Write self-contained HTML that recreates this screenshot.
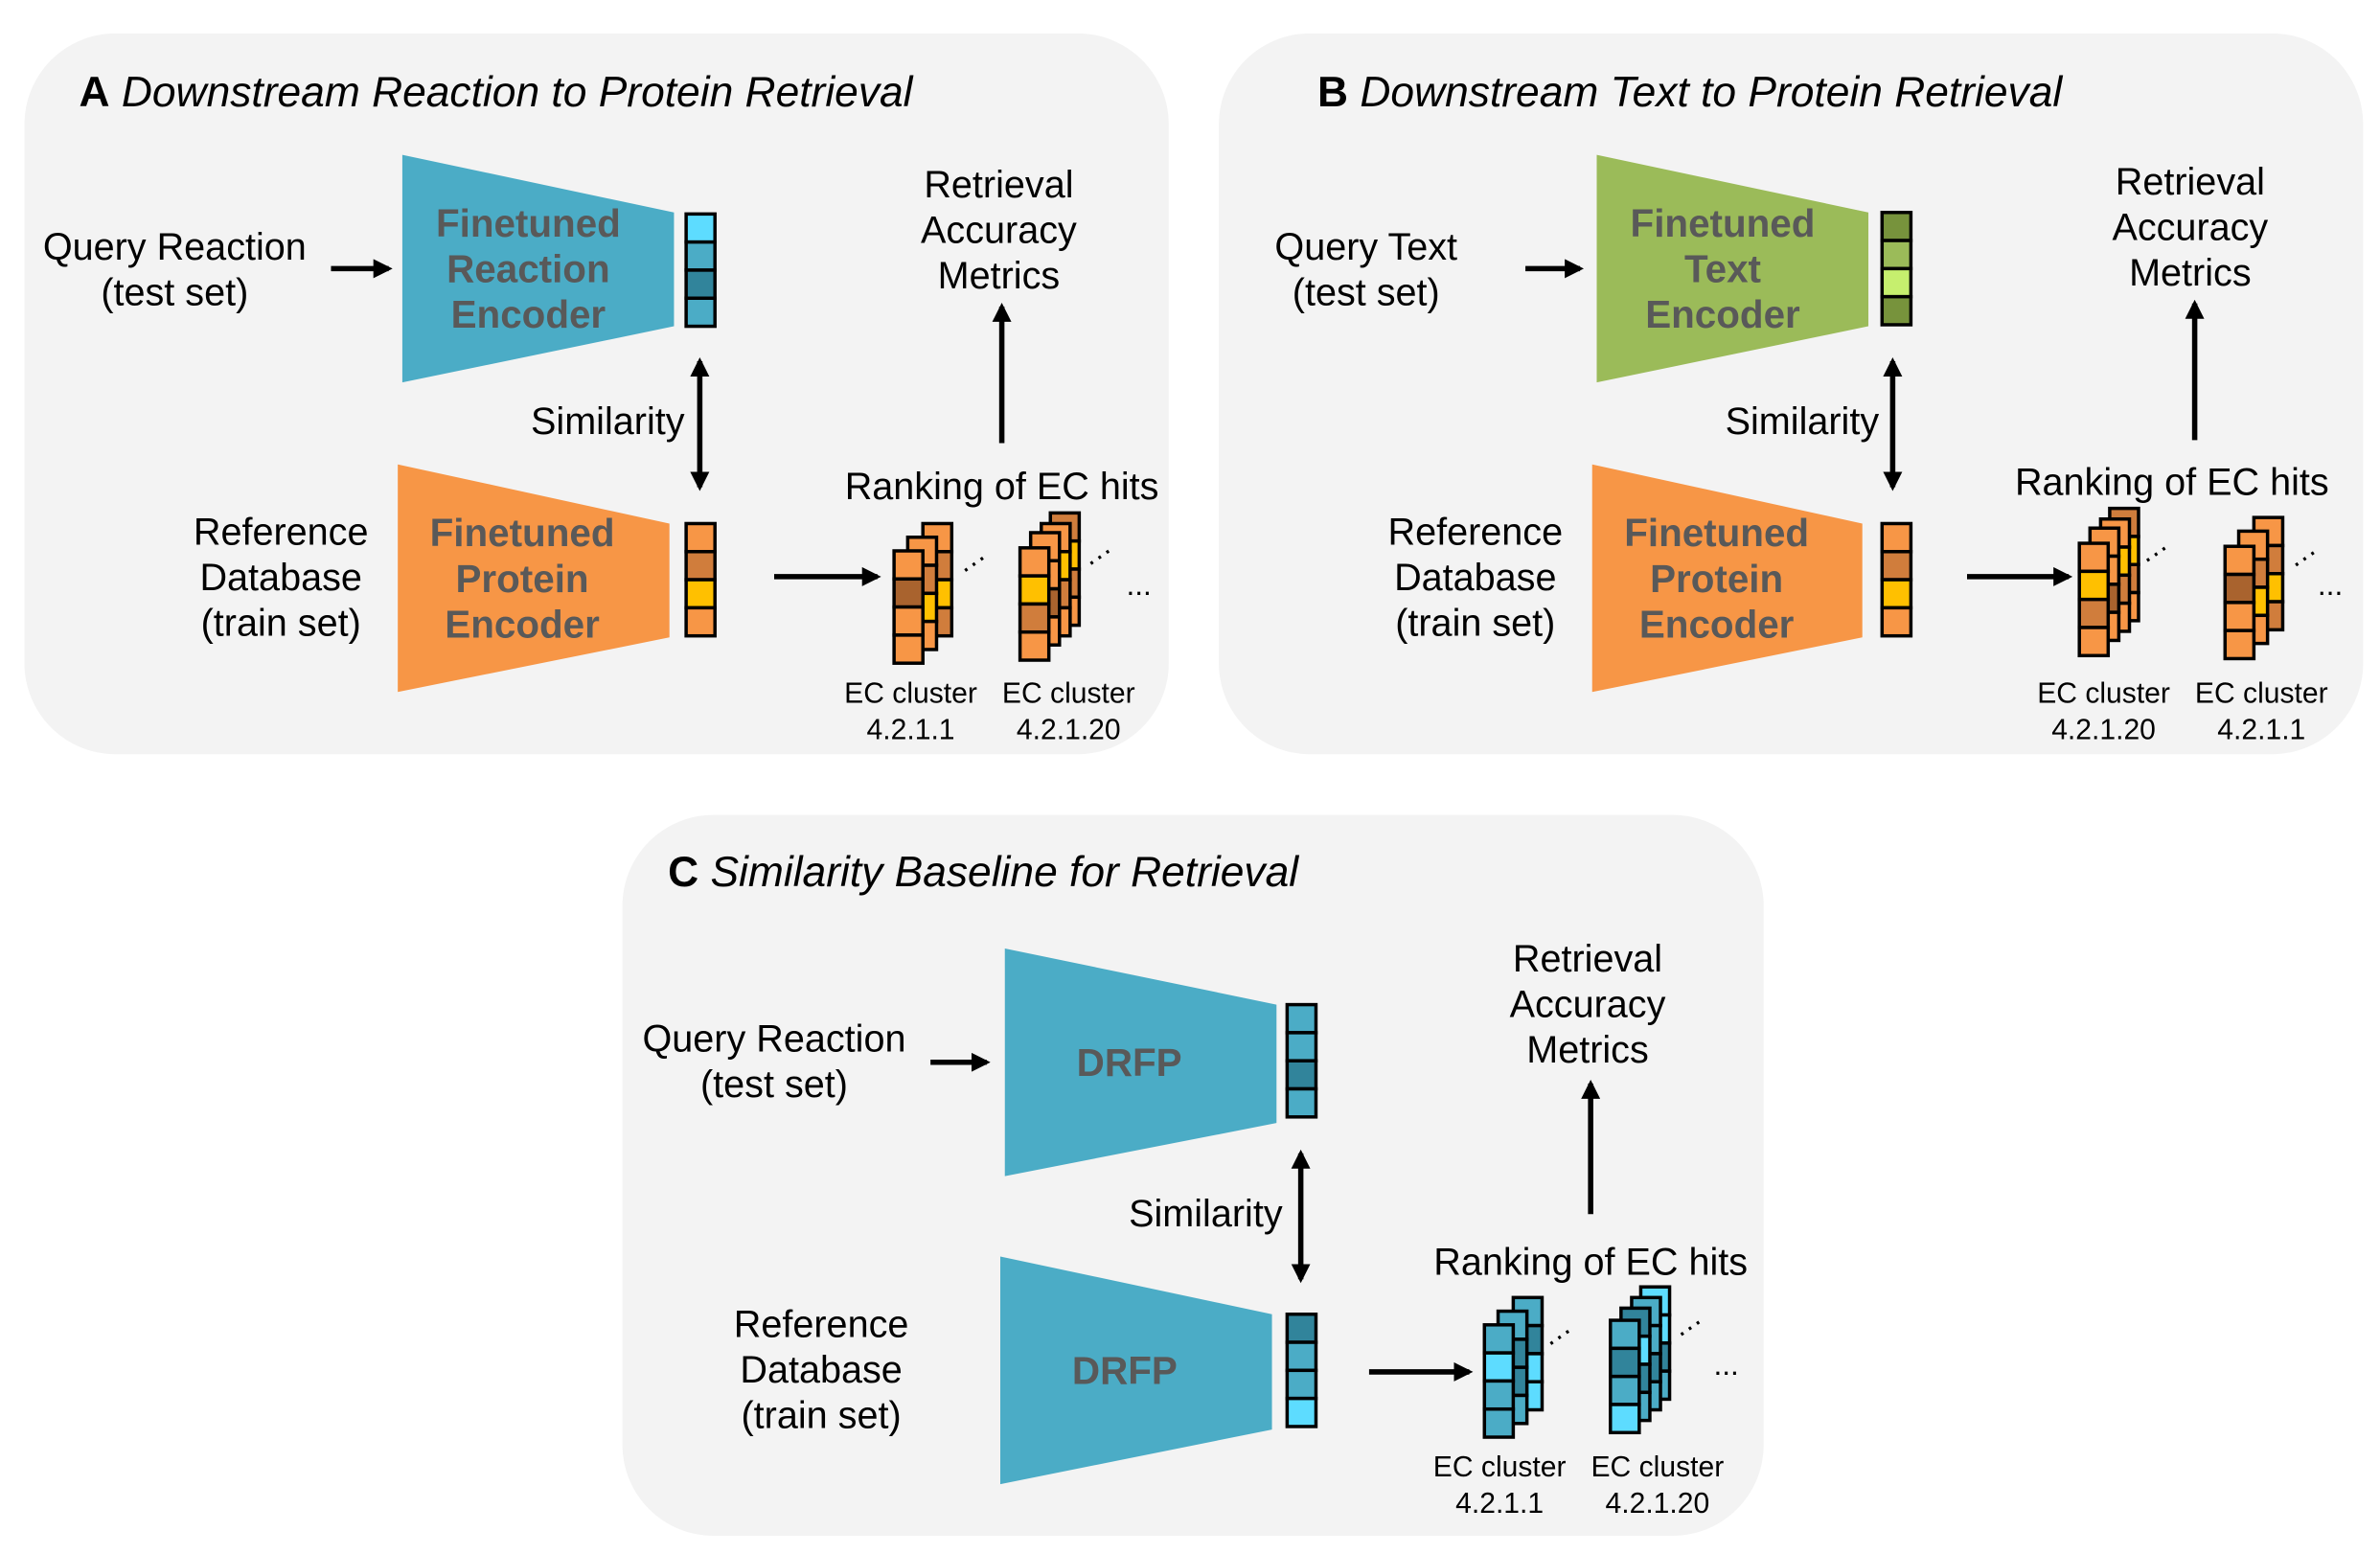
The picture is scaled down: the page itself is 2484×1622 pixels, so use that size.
<!DOCTYPE html>
<html><head><meta charset="utf-8"><style>
html,body{margin:0;padding:0;background:#fff}
svg{display:block}
text{font-family:"Liberation Sans",Arial,sans-serif}
.t{font-size:25px;fill:#000;text-anchor:middle}
.s{font-size:19px;fill:#000;text-anchor:middle}
.e{font-size:25.5px;font-weight:bold;fill:#595959;text-anchor:middle}
.h{font-size:28px;fill:#000}
.c rect{stroke:#000;stroke-width:2.2}
.ln{stroke:#000;stroke-width:3.5;fill:none}
</style></head><body>
<svg width="2484" height="1622" viewBox="0 0 1568 1024" xmlns="http://www.w3.org/2000/svg">
<defs>
<marker id="ah" viewBox="0 0 10 10" refX="8" refY="5" markerWidth="3.6" markerHeight="3.6" orient="auto-start-reverse"><path d="M0,0L10,5L0,10z" fill="#000"/></marker>
</defs>
<rect x="16" y="22" width="754" height="475" rx="60" fill="#f3f3f3"/>
<rect x="803" y="22" width="754" height="475" rx="60" fill="#f3f3f3"/>
<rect x="410" y="537" width="752" height="475" rx="60" fill="#f3f3f3"/>

<!-- Panel A -->
<text x="52" y="70" class="h"><tspan font-weight="bold">A</tspan> <tspan font-style="italic">Downstream Reaction to Protein Retrieval</tspan></text>
<text class="t" x="115" y="171">Query Reaction</text><text class="t" x="115" y="201">(test set)</text>
<line class="ln" x1="218" y1="177" x2="256" y2="177" marker-end="url(#ah)"/>
<polygon points="265,102 444,140 444,215 265,252" fill="#4bacc6"/>
<text class="e" x="348" y="156">Finetuned</text><text class="e" x="348" y="186">Reaction</text><text class="e" x="348" y="216">Encoder</text>
<g class="c" transform="translate(452,141)"><rect width="19" height="18.5" fill="#5ddcff"/><rect y="18.5" width="19" height="18.5" fill="#4bacc6"/><rect y="37" width="19" height="18.5" fill="#31849b"/><rect y="55.5" width="19" height="18.5" fill="#4bacc6"/></g>
<line class="ln" x1="461" y1="238" x2="461" y2="321" marker-start="url(#ah)" marker-end="url(#ah)"/>
<text class="t" x="451" y="286" style="text-anchor:end">Similarity</text>
<polygon points="262,306 441,345 441,420 262,456" fill="#f79646"/>
<text class="e" x="344" y="360">Finetuned</text><text class="e" x="344" y="390">Protein</text><text class="e" x="344" y="420">Encoder</text>
<g class="c" transform="translate(452,345)"><rect width="19" height="18.5" fill="#f79646"/><rect y="18.5" width="19" height="18.5" fill="#d07d3c"/><rect y="37" width="19" height="18.5" fill="#ffc000"/><rect y="55.5" width="19" height="18.5" fill="#f79646"/></g>
<text class="t" x="185" y="359">Reference</text><text class="t" x="185" y="389">Database</text><text class="t" x="185" y="419">(train set)</text>
<line class="ln" x1="510" y1="380" x2="578" y2="380" marker-end="url(#ah)"/>
<text class="t" x="660" y="329">Ranking of EC hits</text>
<text class="t" x="658" y="130">Retrieval</text><text class="t" x="658" y="160">Accuracy</text><text class="t" x="658" y="190">Metrics</text>
<line class="ln" x1="660" y1="292" x2="660" y2="202" marker-end="url(#ah)"/>
<g class="c">
<g transform="translate(608,345)"><rect width="19" height="18.5" fill="#f79646"/><rect y="18.5" width="19" height="18.5" fill="#d07d3c"/><rect y="37" width="19" height="18.5" fill="#ffc000"/><rect y="55.5" width="19" height="18.5" fill="#d07d3c"/></g>
<g transform="translate(598,354)"><rect width="19" height="18.5" fill="#f79646"/><rect y="18.5" width="19" height="18.5" fill="#d07d3c"/><rect y="37" width="19" height="18.5" fill="#ffc000"/><rect y="55.5" width="19" height="18.5" fill="#f79646"/></g>
<g transform="translate(589,363)"><rect width="19" height="18.5" fill="#f79646"/><rect y="18.5" width="19" height="18.5" fill="#a9632e"/><rect y="37" width="19" height="18.5" fill="#f79646"/><rect y="55.5" width="19" height="18.5" fill="#f79646"/></g>
<g transform="translate(692,338)"><rect width="19" height="18.5" fill="#d07d3c"/><rect y="18.5" width="19" height="18.5" fill="#ffc000"/><rect y="37" width="19" height="18.5" fill="#d07d3c"/><rect y="55.5" width="19" height="18.5" fill="#f79646"/></g>
<g transform="translate(686,345)"><rect width="19" height="18.5" fill="#f79646"/><rect y="18.5" width="19" height="18.5" fill="#ffc000"/><rect y="37" width="19" height="18.5" fill="#d07d3c"/><rect y="55.5" width="19" height="18.5" fill="#f79646"/></g>
<g transform="translate(679,351)"><rect width="19" height="18.5" fill="#f79646"/><rect y="18.5" width="19" height="18.5" fill="#f79646"/><rect y="37" width="19" height="18.5" fill="#a9632e"/><rect y="55.5" width="19" height="18.5" fill="#f79646"/></g>
<g transform="translate(672,361)"><rect width="19" height="18.5" fill="#f79646"/><rect y="18.5" width="19" height="18.5" fill="#ffc000"/><rect y="37" width="19" height="18.5" fill="#d07d3c"/><rect y="55.5" width="19" height="18.5" fill="#f79646"/></g>
</g>
<text x="632" y="378" font-size="19" transform="rotate(-35 640 372)">···</text>
<text x="715" y="374" font-size="19" transform="rotate(-35 722 368)">···</text>
<text x="742" y="392" font-size="20">...</text>
<text class="s" x="600" y="463">EC cluster</text><text class="s" x="600" y="487">4.2.1.1</text>
<text class="s" x="704" y="463">EC cluster</text><text class="s" x="704" y="487">4.2.1.20</text>

<!-- Panel B -->
<text x="868" y="70" class="h"><tspan font-weight="bold">B</tspan> <tspan font-style="italic">Downstream Text to Protein Retrieval</tspan></text>
<text class="t" x="900" y="171">Query Text</text><text class="t" x="900" y="201">(test set)</text>
<line class="ln" x1="1005" y1="177" x2="1041" y2="177" marker-end="url(#ah)"/>
<polygon points="1052,102 1231,140 1231,215 1052,252" fill="#9bbb59"/>
<text class="e" x="1135" y="156">Finetuned</text><text class="e" x="1135" y="186">Text</text><text class="e" x="1135" y="216">Encoder</text>
<g class="c" transform="translate(1240,140)"><rect width="19" height="18.5" fill="#77933c"/><rect y="18.5" width="19" height="18.5" fill="#9bbb59"/><rect y="37" width="19" height="18.5" fill="#c6ef6e"/><rect y="55.5" width="19" height="18.5" fill="#77933c"/></g>
<line class="ln" x1="1247" y1="238" x2="1247" y2="321" marker-start="url(#ah)" marker-end="url(#ah)"/>
<text class="t" x="1238" y="286" style="text-anchor:end">Similarity</text>
<polygon points="1049,306 1227,345 1227,420 1049,456" fill="#f79646"/>
<text class="e" x="1131" y="360">Finetuned</text><text class="e" x="1131" y="390">Protein</text><text class="e" x="1131" y="420">Encoder</text>
<g class="c" transform="translate(1240,345)"><rect width="19" height="18.5" fill="#f79646"/><rect y="18.5" width="19" height="18.5" fill="#d07d3c"/><rect y="37" width="19" height="18.5" fill="#ffc000"/><rect y="55.5" width="19" height="18.5" fill="#f79646"/></g>
<text class="t" x="972" y="359">Reference</text><text class="t" x="972" y="389">Database</text><text class="t" x="972" y="419">(train set)</text>
<line class="ln" x1="1296" y1="380" x2="1363" y2="380" marker-end="url(#ah)"/>
<text class="t" x="1431" y="326">Ranking of EC hits</text>
<text class="t" x="1443" y="128">Retrieval</text><text class="t" x="1443" y="158">Accuracy</text><text class="t" x="1443" y="188">Metrics</text>
<line class="ln" x1="1446" y1="290" x2="1446" y2="200" marker-end="url(#ah)"/>
<g class="c">
<g transform="translate(1390,335)"><rect width="19" height="18.5" fill="#d07d3c"/><rect y="18.5" width="19" height="18.5" fill="#ffc000"/><rect y="37" width="19" height="18.5" fill="#d07d3c"/><rect y="55.5" width="19" height="18.5" fill="#f79646"/></g>
<g transform="translate(1384,342)"><rect width="19" height="18.5" fill="#f79646"/><rect y="18.5" width="19" height="18.5" fill="#ffc000"/><rect y="37" width="19" height="18.5" fill="#d07d3c"/><rect y="55.5" width="19" height="18.5" fill="#f79646"/></g>
<g transform="translate(1377,348)"><rect width="19" height="18.5" fill="#f79646"/><rect y="18.5" width="19" height="18.5" fill="#f79646"/><rect y="37" width="19" height="18.5" fill="#a9632e"/><rect y="55.5" width="19" height="18.5" fill="#f79646"/></g>
<g transform="translate(1370,358)"><rect width="19" height="18.5" fill="#f79646"/><rect y="18.5" width="19" height="18.5" fill="#ffc000"/><rect y="37" width="19" height="18.5" fill="#d07d3c"/><rect y="55.5" width="19" height="18.5" fill="#f79646"/></g>
<g transform="translate(1485,341)"><rect width="19" height="18.5" fill="#f79646"/><rect y="18.5" width="19" height="18.5" fill="#d07d3c"/><rect y="37" width="19" height="18.5" fill="#ffc000"/><rect y="55.5" width="19" height="18.5" fill="#d07d3c"/></g>
<g transform="translate(1475,350)"><rect width="19" height="18.5" fill="#f79646"/><rect y="18.5" width="19" height="18.5" fill="#d07d3c"/><rect y="37" width="19" height="18.5" fill="#ffc000"/><rect y="55.5" width="19" height="18.5" fill="#f79646"/></g>
<g transform="translate(1466,360)"><rect width="19" height="18.5" fill="#f79646"/><rect y="18.5" width="19" height="18.5" fill="#a9632e"/><rect y="37" width="19" height="18.5" fill="#f79646"/><rect y="55.5" width="19" height="18.5" fill="#f79646"/></g>
</g>
<text x="1411" y="372" font-size="19" transform="rotate(-35 1418 366)">···</text>
<text x="1509" y="375" font-size="19" transform="rotate(-35 1516 369)">···</text>
<text x="1527" y="392" font-size="20">...</text>
<text class="s" x="1386" y="463">EC cluster</text><text class="s" x="1386" y="487">4.2.1.20</text>
<text class="s" x="1490" y="463">EC cluster</text><text class="s" x="1490" y="487">4.2.1.1</text>

<!-- Panel C -->
<text x="440" y="584" class="h"><tspan font-weight="bold">C</tspan> <tspan font-style="italic">Similarity Baseline for Retrieval</tspan></text>
<text class="t" x="510" y="693">Query Reaction</text><text class="t" x="510" y="723">(test set)</text>
<line class="ln" x1="613" y1="700" x2="650" y2="700" marker-end="url(#ah)"/>
<polygon points="662,625 841,662 841,740 662,775" fill="#4bacc6"/>
<text class="e" x="744" y="709">DRFP</text>
<g class="c" transform="translate(848,662)"><rect width="19" height="18.5" fill="#4bacc6"/><rect y="18.5" width="19" height="18.5" fill="#4bacc6"/><rect y="37" width="19" height="18.5" fill="#31849b"/><rect y="55.5" width="19" height="18.5" fill="#4bacc6"/></g>
<line class="ln" x1="857" y1="760" x2="857" y2="843" marker-start="url(#ah)" marker-end="url(#ah)"/>
<text class="t" x="845" y="808" style="text-anchor:end">Similarity</text>
<polygon points="659,828 838,866 838,942 659,978" fill="#4bacc6"/>
<text class="e" x="741" y="912">DRFP</text>
<g class="c" transform="translate(848,866)"><rect width="19" height="18.5" fill="#31849b"/><rect y="18.5" width="19" height="18.5" fill="#4bacc6"/><rect y="37" width="19" height="18.5" fill="#4bacc6"/><rect y="55.5" width="19" height="18.5" fill="#5ddcff"/></g>
<text class="t" x="541" y="881">Reference</text><text class="t" x="541" y="911">Database</text><text class="t" x="541" y="941">(train set)</text>
<line class="ln" x1="902" y1="904" x2="968" y2="904" marker-end="url(#ah)"/>
<text class="t" x="1048" y="840">Ranking of EC hits</text>
<text class="t" x="1046" y="640">Retrieval</text><text class="t" x="1046" y="670">Accuracy</text><text class="t" x="1046" y="700">Metrics</text>
<line class="ln" x1="1048" y1="800" x2="1048" y2="714" marker-end="url(#ah)"/>
<g class="c">
<g transform="translate(997,855)"><rect width="19" height="18.5" fill="#4bacc6"/><rect y="18.5" width="19" height="18.5" fill="#31849b"/><rect y="37" width="19" height="18.5" fill="#5ddcff"/><rect y="55.5" width="19" height="18.5" fill="#5ddcff"/></g>
<g transform="translate(987,864)"><rect width="19" height="18.5" fill="#4bacc6"/><rect y="18.5" width="19" height="18.5" fill="#31849b"/><rect y="37" width="19" height="18.5" fill="#31849b"/><rect y="55.5" width="19" height="18.5" fill="#4bacc6"/></g>
<g transform="translate(978,873)"><rect width="19" height="18.5" fill="#4bacc6"/><rect y="18.5" width="19" height="18.5" fill="#5ddcff"/><rect y="37" width="19" height="18.5" fill="#4bacc6"/><rect y="55.5" width="19" height="18.5" fill="#4bacc6"/></g>
<g transform="translate(1081,848)"><rect width="19" height="18.5" fill="#5ddcff"/><rect y="18.5" width="19" height="18.5" fill="#5ddcff"/><rect y="37" width="19" height="18.5" fill="#31849b"/><rect y="55.5" width="19" height="18.5" fill="#4bacc6"/></g>
<g transform="translate(1075,855)"><rect width="19" height="18.5" fill="#4bacc6"/><rect y="18.5" width="19" height="18.5" fill="#4bacc6"/><rect y="37" width="19" height="18.5" fill="#31849b"/><rect y="55.5" width="19" height="18.5" fill="#4bacc6"/></g>
<g transform="translate(1068,862)"><rect width="19" height="18.5" fill="#31849b"/><rect y="18.5" width="19" height="18.5" fill="#5ddcff"/><rect y="37" width="19" height="18.5" fill="#31849b"/><rect y="55.5" width="19" height="18.5" fill="#4bacc6"/></g>
<g transform="translate(1061,870)"><rect width="19" height="18.5" fill="#4bacc6"/><rect y="18.5" width="19" height="18.5" fill="#31849b"/><rect y="37" width="19" height="18.5" fill="#4bacc6"/><rect y="55.5" width="19" height="18.5" fill="#5ddcff"/></g>
</g>
<text x="1018" y="888" font-size="19" transform="rotate(-35 1025 882)">···</text>
<text x="1104" y="882" font-size="19" transform="rotate(-35 1111 876)">···</text>
<text x="1129" y="906" font-size="20">...</text>
<text class="s" x="988" y="973">EC cluster</text><text class="s" x="988" y="997">4.2.1.1</text>
<text class="s" x="1092" y="973">EC cluster</text><text class="s" x="1092" y="997">4.2.1.20</text>
</svg>
</body></html>
